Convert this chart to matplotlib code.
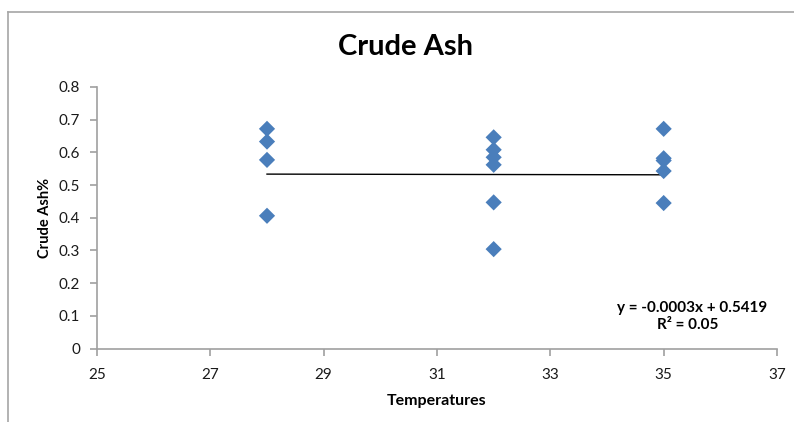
import matplotlib
matplotlib.use("Agg")
import matplotlib.pyplot as plt
import numpy as np
from matplotlib.lines import Line2D

plt.rcParams['font.family'] = ['Lato', 'DejaVu Sans']

# Data
temps_28 = [28, 28, 28, 28]
ash_28 = [0.672, 0.633, 0.577, 0.406]
temps_32 = [32, 32, 32, 32, 32, 32]
ash_32 = [0.646, 0.608, 0.585, 0.562, 0.447, 0.304]
temps_35 = [35, 35, 35, 35, 35]
ash_35 = [0.672, 0.582, 0.575, 0.543, 0.445]

temperatures = temps_28 + temps_32 + temps_35
crude_ash = ash_28 + ash_32 + ash_35

trend_slope = -0.0003
trend_intercept = 0.5419
r_squared = 0.05

x_ticks = [25, 27, 29, 31, 33, 35, 37]
y_ticks = [0, 0.1, 0.2, 0.3, 0.4, 0.5, 0.6, 0.7, 0.8]

W, H = 794, 422
fig = plt.figure(figsize=(W / 100, H / 100), dpi=100)
ax = fig.add_axes([97 / W, (H - 348.5) / H, (777 - 97) / W, (348.5 - 87) / H])

# outer chart border (top and left visible)
fig.add_artist(Line2D([8 / W, 1], [1 - 12 / H, 1 - 12 / H], color='#a6a6a6', lw=1.2, transform=fig.transFigure))
fig.add_artist(Line2D([8 / W, 8 / W], [0, 1 - 12 / H], color='#a6a6a6', lw=1.2, transform=fig.transFigure))

ax.scatter(temperatures, crude_ash, marker='D', s=68, color='#4A7EBB', edgecolors='none', zorder=3)

tx = np.array([min(temperatures), max(temperatures)])
ax.plot(tx, trend_slope * tx + trend_intercept, color='black', lw=1.0, zorder=2)

ax.set_xlim(25, 37)
ax.set_ylim(0, 0.8)
ax.set_xticks(x_ticks)
ax.set_yticks(y_ticks)
ax.set_xticklabels([str(t) for t in x_ticks])
ax.set_yticklabels(['0'] + [f'{v:.1f}' for v in y_ticks[1:]])

for s in ['top', 'right']:
    ax.spines[s].set_visible(False)
for s in ['left', 'bottom']:
    ax.spines[s].set_color('#a0a0a0')
    ax.spines[s].set_linewidth(1.2)
ax.tick_params(axis='both', direction='out', length=5, width=1.2, color='#a0a0a0',
               labelsize=11, labelcolor='#1a1a1a')
ax.tick_params(axis='x', pad=9)
ax.tick_params(axis='y', pad=7)

ax.set_xlabel('Temperatures', fontsize=11.5, fontweight='bold', labelpad=9)
ax.set_ylabel('Crude Ash%', fontsize=10.5, fontweight='bold', labelpad=5)

fig.text(405 / W, 1 - 47 / H, 'Crude Ash', ha='center', va='center', fontsize=21, fontweight='bold')

ax.text(0.985, 0.155, f'y = {trend_slope:.4f}x + {trend_intercept:.4f}', transform=ax.transAxes,
        ha='right', va='center', fontsize=11, fontweight='bold')
ax.text(0.869, 0.09, f'R² = {r_squared:.2f}', transform=ax.transAxes,
        ha='center', va='center', fontsize=11, fontweight='bold')

fig.savefig('out.png', dpi=100)
